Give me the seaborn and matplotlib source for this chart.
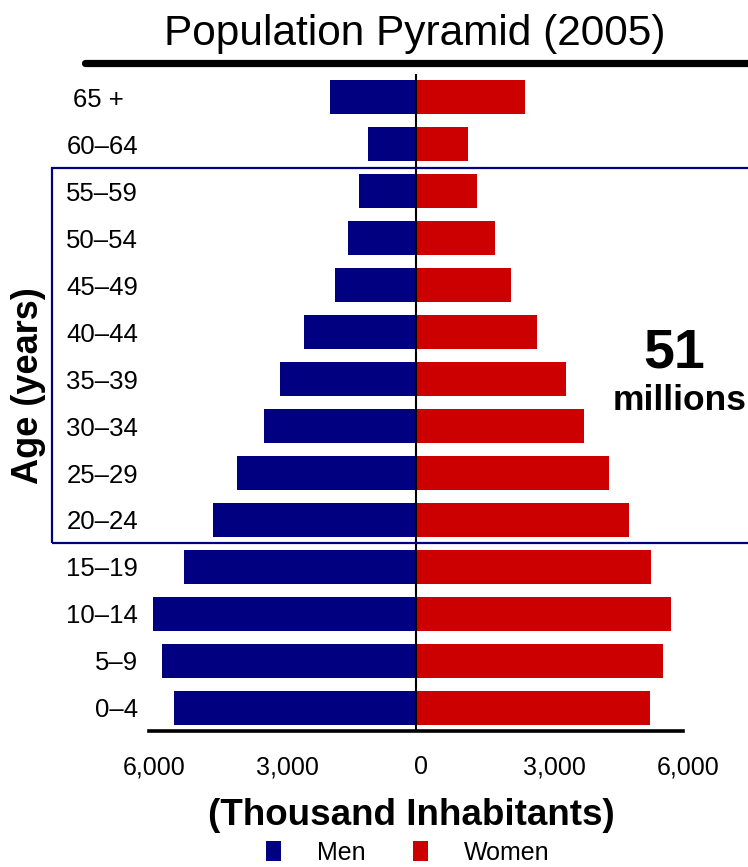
import matplotlib
matplotlib.use("Agg")
import matplotlib.pyplot as plt
import matplotlib.transforms as mtransforms
from matplotlib.patches import Rectangle
from matplotlib.lines import Line2D
from matplotlib.ticker import FixedLocator, FuncFormatter
import pandas as pd
import seaborn as sns

# Age groups, oldest at the top
age_groups = ["65 +  ", "60–64", "55–59", "50–54", "45–49", "40–44", "35–39",
              "30–34", "25–29", "20–24", "15–19", "10–14", "5–9", "0–4"]
# Population in thousands
men = [1930, 1080, 1280, 1530, 1820, 2520, 3060, 3420, 4020, 4560,
       5210, 5910, 5710, 5440]
women = [2450, 1170, 1370, 1780, 2130, 2720, 3370, 3780, 4340, 4790,
         5280, 5730, 5550, 5260]
sexes = ["Men", "Women"]
x_ticks = [-6000, -3000, 0, 3000, 6000]
working_age = ("55–59", "20–24")
total_number = "51"
total_unit = "millions"

sns.set_style("white")
plt.rcParams["font.family"] = ["Liberation Sans", "DejaVu Sans"]
plt.rcParams["text.color"] = "black"
plt.rcParams["axes.labelcolor"] = "black"
plt.rcParams["xtick.color"] = "black"
plt.rcParams["ytick.color"] = "black"

df = pd.DataFrame({
    "age": age_groups * 2,
    "sex": [sexes[0]] * len(men) + [sexes[1]] * len(women),
    "value": [-v for v in men] + list(women),
})

fig = plt.figure(figsize=(7.48, 8.67), dpi=100)
ax = fig.add_axes([0.1992, 0.1563, 0.7139, 0.7589])

sns.barplot(data=df, y="age", x="value", hue="sex", order=age_groups,
            hue_order=sexes, palette={"Men": "#000080", "Women": "#CC0000"},
            dodge=False, width=0.72, orient="h", errorbar=None,
            saturation=1, linewidth=0, ax=ax)

ax.set_xlim(-6000, 6000)
ax.set_ylim(len(age_groups) - 0.5, -0.5)
ax.axvline(0, color="black", lw=1.5, zorder=4)

for side in ("left", "top", "right"):
    ax.spines[side].set_visible(False)
ax.spines["bottom"].set_linewidth(2.6)
ax.spines["bottom"].set_color("black")

ax.xaxis.set_major_locator(FixedLocator(x_ticks))
ax.xaxis.set_major_formatter(FuncFormatter(lambda v, p: f"{abs(v):,.0f}"))
ax.tick_params(axis="x", length=0, pad=17, labelsize=18, labelcolor="black")
ax.tick_params(axis="y", length=0, pad=8, labelsize=18.5, labelcolor="black")

ax.set_xlabel("(Thousand Inhabitants)", fontsize=26.5, fontweight="bold",
              color="black")
ax.xaxis.set_label_coords(0.4906, -0.1421)
ax.xaxis.label.set_va("baseline")

ax.set_ylabel("Age (years)", fontsize=26, fontweight="bold", color="black")
ax.yaxis.set_label_coords((28 - 149) / 534, 0.525)
ax.yaxis.label.set_va("center")

# nudge the value labels slightly to the right
shift = mtransforms.ScaledTranslation(0.05, 0, fig.dpi_scale_trans)
for lbl in ax.get_xticklabels():
    lbl.set_transform(lbl.get_transform() + shift)

sns.move_legend(ax, "center", bbox_to_anchor=(408 / 748, 1 - 853 / 867),
                bbox_transform=fig.transFigure, ncol=2, frameon=False,
                title=None, fontsize=18, handlelength=0.6, handleheight=0.84,
                handletextpad=1.44, columnspacing=1.9, labelcolor="black")

# frame around the 20–59 age band
band = mtransforms.blended_transform_factory(fig.transFigure, ax.transData)
i_top = age_groups.index(working_age[0])
i_bot = age_groups.index(working_age[1])
fig.add_artist(Rectangle((52 / 748, i_bot + 0.5), 1.0,
                         (i_top - 0.5) - (i_bot + 0.5), transform=band,
                         fill=False, edgecolor="#000080", lw=1.6,
                         clip_on=False, zorder=5))

fig.text(674 / 748, 1 - 367 / 867, total_number, fontsize=40,
         fontweight="bold", ha="center", va="baseline", color="black")
fig.text(680 / 748, 1 - 410 / 867, total_unit, fontsize=25.5,
         fontweight="bold", ha="center", va="baseline", color="black")

# title with a heavy rule beneath it
fig.text(415 / 748, 1 - 45 / 867, "Population Pyramid (2005)", fontsize=30.5,
         ha="center", va="baseline", color="black")
fig.add_artist(Line2D([85 / 748, 1.0], [1 - 62.5 / 867] * 2,
                      transform=fig.transFigure, color="black", lw=5.2))

fig.savefig("out.png", dpi=100)
